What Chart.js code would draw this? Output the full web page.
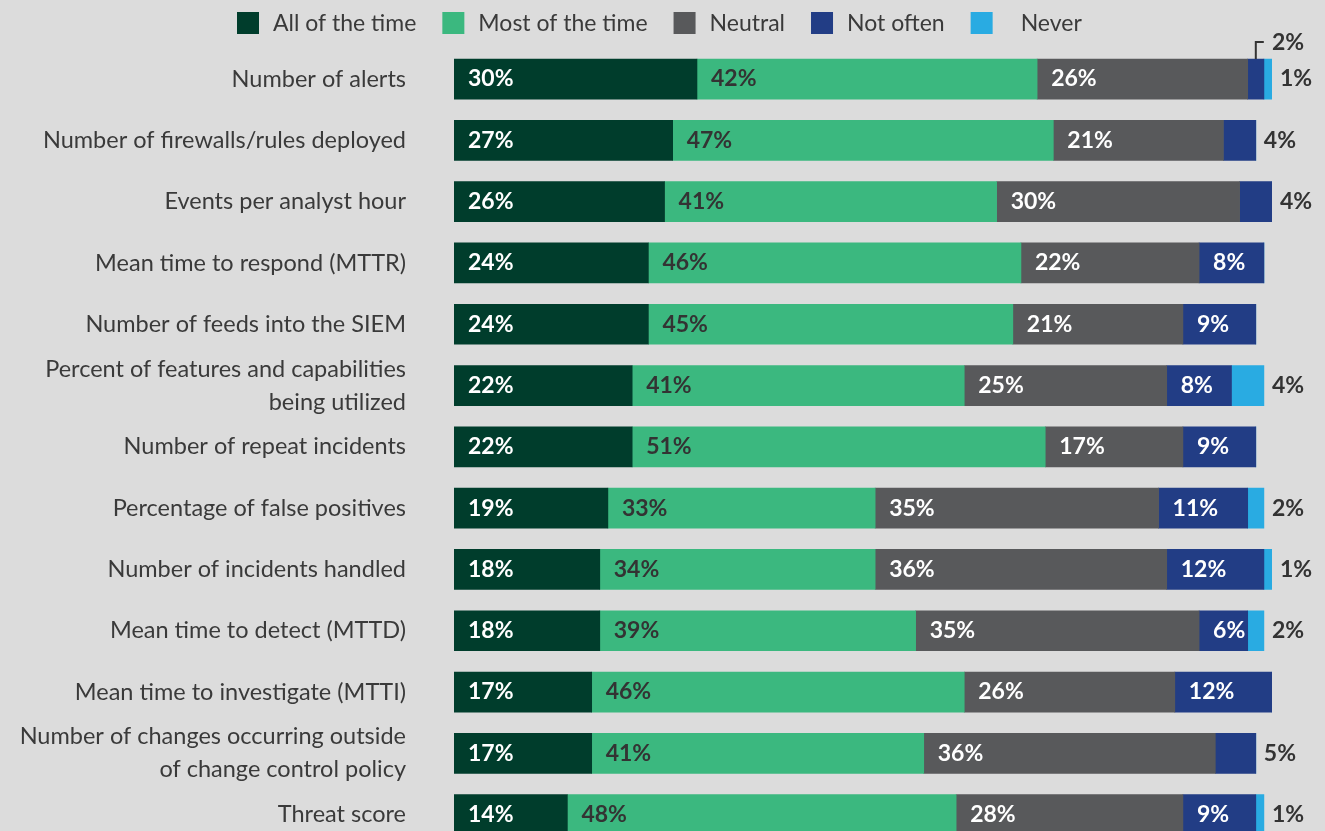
<!DOCTYPE html>
<html>
<head>
<meta charset="utf-8">
<script src="https://cdn.jsdelivr.net/npm/chart.js@4.4.1/dist/chart.umd.min.js"></script>
<style>
  html, body { margin: 0; padding: 0; background: #dcdcdc; overflow: hidden; }
</style>
</head>
<body>
<canvas id="grafico" width="1325" height="846"></canvas>
<script>
const categorias = [
    "Number of alerts",
    "Number of firewalls/rules deployed",
    "Events per analyst hour",
    "Mean time to respond (MTTR)",
    "Number of feeds into the SIEM",
    ["Percent of features and capabilities", "being utilized"],
    "Number of repeat incidents",
    "Percentage of false positives",
    "Number of incidents handled",
    "Mean time to detect (MTTD)",
    "Mean time to investigate (MTTI)",
    ["Number of changes occurring outside", "of change control policy"],
    "Threat score"
];

const allOfTheTime = [30, 27, 26, 24, 24, 22, 22, 19, 18, 18, 17, 17, 14];
const mostOfTheTime = [42, 47, 41, 46, 45, 41, 51, 33, 34, 39, 46, 41, 48];
const neutral = [26, 21, 30, 22, 21, 25, 17, 35, 36, 35, 26, 36, 28];
const notOften = [2, 4, 4, 8, 9, 8, 9, 11, 12, 6, 12, 5, 9];
const never = [1, 0, 0, 0, 0, 4, 0, 2, 1, 2, 0, 0, 1];

const series = ["All of the time", "Most of the time", "Neutral", "Not often", "Never"];
const colores = ["#003d2c", "#3bb87f", "#58595b", "#223d85", "#29abe2"];
const colorTexto = ["#ffffff", "#333333", "#ffffff", "#ffffff", "#333333"];

const fuente = "Lato, 'Open Sans', sans-serif";
const grisTexto = "#3a3a3a";

// etiquetas de valores y leyenda
const etiquetasPlugin = {
    id: "etiquetas",
    afterDatasetsDraw(chart) {
        const ctx = chart.ctx;
        const n = categorias.length;
        ctx.save();
        ctx.font = "bold 23px " + fuente;
        ctx.textBaseline = "middle";
        ctx.textAlign = "left";
        for (let j = 0; j < n; j++) {
            let finBarra = 0;
            chart.data.datasets.forEach((ds, i) => {
                const bar = chart.getDatasetMeta(i).data[j];
                if (ds.data[j] > 0) finBarra = Math.max(finBarra, bar.x);
            });
            const tieneNever = never[j] > 0;
            chart.data.datasets.forEach((ds, i) => {
                const v = ds.data[j];
                if (!v) return;
                const bar = chart.getDatasetMeta(i).data[j];
                const texto = v + "%";
                if (i === 4) {
                    ctx.fillStyle = "#333333";
                    ctx.fillText(texto, finBarra + 8, bar.y);
                } else if (i === 3 && v < 6) {
                    ctx.fillStyle = "#333333";
                    if (tieneNever) {
                        const top = bar.y - bar.height / 2;
                        const cx = (bar.x + bar.base) / 2;
                        ctx.strokeStyle = "#333333";
                        ctx.lineWidth = 2;
                        ctx.beginPath();
                        ctx.moveTo(cx, top);
                        ctx.lineTo(cx, top - 17);
                        ctx.lineTo(cx + 8, top - 17);
                        ctx.stroke();
                        ctx.fillText(texto, finBarra, top - 16);
                    } else {
                        ctx.fillText(texto, finBarra + 8, bar.y);
                    }
                } else {
                    ctx.fillStyle = colorTexto[i];
                    ctx.fillText(texto, bar.base + 14, bar.y);
                }
            });
        }

        // leyenda
        ctx.font = "23px " + fuente;
        const gap = 26, caja = 22;
        let x = 237;
        series.forEach((s, i) => {
            const sep = i === series.length - 1 ? 28 : 14;
            ctx.fillStyle = colores[i];
            ctx.fillRect(x, 12, caja, caja);
            ctx.fillStyle = grisTexto;
            ctx.fillText(s, x + caja + sep, 24);
            x += caja + sep + ctx.measureText(s).width + gap;
        });
        ctx.restore();
    }
};

const datos = [allOfTheTime, mostOfTheTime, neutral, notOften, never];

new Chart(document.getElementById("grafico").getContext("2d"), {
    type: "bar",
    data: {
        labels: categorias,
        datasets: datos.map((d, i) => ({
            label: series[i],
            data: d,
            backgroundColor: colores[i],
            borderWidth: 0,
            barThickness: 40
        }))
    },
    options: {
        indexAxis: "y",
        responsive: false,
        animation: false,
        layout: { padding: { top: 48.4, right: 53, left: 0, bottom: 0.7 } },
        plugins: {
            legend: { display: false },
            tooltip: { enabled: false }
        },
        scales: {
            x: {
                stacked: true,
                display: false,
                min: 0,
                max: 101
            },
            y: {
                stacked: true,
                grid: { display: false, drawTicks: false },
                border: { display: false },
                afterFit(scale) {
                    scale.width = 454;
                    scale.paddingTop = 0;
                    scale.paddingBottom = 0;
                },
                ticks: {
                    autoSkip: false,
                    padding: 48,
                    color: grisTexto,
                    font: { family: fuente, size: 23.5, lineHeight: 1.4 }
                }
            }
        }
    },
    plugins: [etiquetasPlugin]
});
</script>
</body>
</html>
